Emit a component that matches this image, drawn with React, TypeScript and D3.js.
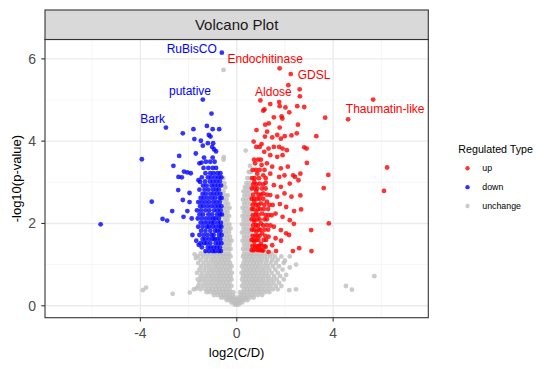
import * as d3 from 'd3'

// [log2(C/D), -log10(p-value)]
const upPoints: [number, number][] = [
  [1.78, 5.77], [2.24, 5.63], [2.14, 5.36], [2.61, 5.26], [2.62, 5.09], [0.98, 4.99], [1.76, 4.95],
  [1.78, 4.85], [1.39, 4.9], [1.15, 4.77], [1.1, 4.74], [2.02, 4.82], [2.18, 4.7], [2.51, 4.85],
  [2.8, 4.83], [5.66, 5.01], [4.62, 4.53], [3.67, 4.57], [1.54, 4.58], [1.86, 4.6], [1.89, 4.55],
  [1.18, 4.4], [1.33, 4.43], [2.54, 4.4], [1.78, 4.33], [0.82, 4.27], [1.26, 4.23], [3.3, 4.12],
  [2.27, 4.14], [2.49, 4.19], [0.7, 3.99], [0.81, 3.86], [2.8, 3.85], [2.9, 3.82], [6.24, 3.36],
  [6.11, 2.79], [2.91, 3.47], [3.8, 3.18], [2.64, 3.21], [2.42, 3.13], [3.61, 2.86], [2.64, 2.68],
  [2.38, 2.3], [2.67, 2.34], [3.82, 2.0], [3.09, 1.84], [3.1, 1.33], [2.59, 1.4], [2.33, 1.33],
  [2.17, 1.72], [2.37, 1.99], [1.84, 1.58], [1.63, 1.33],
  [1.17, 4.11], [1.47, 4.09], [1.68, 4.15], [1.83, 4.06], [1.99, 4.12], [1.03, 3.93], [0.95, 3.86],
  [1.32, 3.82], [1.54, 3.86], [1.76, 3.86], [1.9, 3.82], [2.08, 3.78], [1.14, 3.74], [1.39, 3.66],
  [1.68, 3.62], [1.9, 3.66], [0.76, 3.46], [1.03, 3.42], [1.25, 3.46], [1.47, 3.38], [1.83, 3.34],
  [2.12, 3.38], [0.85, 3.21], [1.1, 3.17], [1.39, 3.21], [1.76, 3.13], [1.98, 3.17], [2.34, 3.17],
  [0.73, 3.01], [0.95, 2.97], [1.2, 2.99], [1.54, 2.93], [1.83, 2.89], [2.2, 2.97], [2.56, 3.05],
  [0.81, 2.77], [1.1, 2.73], [1.39, 2.69], [1.68, 2.65], [1.98, 2.73], [2.27, 2.65], [0.73, 2.53],
  [1.0, 2.49], [1.25, 2.53], [1.49, 2.45], [1.79, 2.47], [2.05, 2.4], [0.81, 2.28], [1.05, 2.24],
  [1.32, 2.2], [1.61, 2.24], [1.9, 2.16], [2.2, 2.08], [0.73, 2.04], [1.0, 2.0], [1.25, 1.96],
  [1.54, 1.92], [1.83, 1.84], [2.05, 1.76], [0.81, 1.8], [1.05, 1.76], [1.32, 1.68], [1.61, 1.64],
  [0.73, 1.55], [1.0, 1.51], [1.2, 1.43], [1.47, 1.47], [0.81, 1.37], [1.1, 1.34], [1.32, 1.31],
  [0.62, 1.35], [0.7, 1.35], [0.88, 1.35], [0.97, 1.35], [1.05, 1.35],
  [0.65, 1.45], [0.75, 1.45], [0.85, 1.45], [0.92, 1.45], [1.02, 1.45], [1.15, 1.45],
  [0.62, 1.6], [0.7, 1.6], [0.82, 1.6], [0.9, 1.6], [1.12, 1.6], [1.22, 1.6],
  [0.66, 1.7], [0.76, 1.7], [0.86, 1.7], [0.95, 1.7], [1.18, 1.7],
  [0.63, 1.85], [0.72, 1.85], [0.9, 1.85], [0.98, 1.85], [1.15, 1.85], [1.3, 1.85],
  [0.68, 1.95], [0.8, 1.95], [0.88, 1.95], [1.1, 1.95], [1.4, 1.95],
  [0.62, 2.1], [0.72, 2.1], [0.85, 2.1], [0.95, 2.1], [1.15, 2.1], [1.25, 2.1],
  [0.67, 2.2], [0.78, 2.2], [0.9, 2.2], [1.2, 2.2], [1.45, 2.2],
  [0.63, 2.35], [0.7, 2.35], [0.88, 2.35], [0.98, 2.35], [1.12, 2.35], [1.3, 2.35],
  [0.66, 2.45], [0.8, 2.45], [0.9, 2.45], [1.15, 2.45], [1.35, 2.45],
  [0.62, 2.6], [0.72, 2.6], [0.85, 2.6], [0.95, 2.6], [1.1, 2.6],
  [0.68, 2.7], [0.9, 2.7], [1.0, 2.7], [1.25, 2.7],
  [0.63, 2.85], [0.75, 2.85], [0.85, 2.85], [1.05, 2.85], [1.2, 2.85],
  [0.68, 2.95], [0.82, 2.95], [1.1, 2.95],
  [0.64, 3.1], [0.74, 3.1], [0.92, 3.1], [1.2, 3.1],
  [0.66, 3.3], [0.8, 3.3], [0.95, 3.3], [1.15, 3.3],
  [0.72, 3.55], [0.88, 3.55], [1.0, 3.55],
]

const downPoints: [number, number][] = [
  [-0.62, 6.15], [-1.41, 5.01], [-1.05, 4.67], [-2.94, 4.33], [-1.8, 4.29], [-1.24, 4.37], [-1.0, 4.29],
  [-0.73, 4.29], [-2.24, 4.19], [-1.76, 4.05], [-1.49, 4.01], [-1.41, 3.89], [-1.16, 4.15], [-1.09, 4.11],
  [-1.02, 3.86], [-0.94, 3.8], [-0.86, 3.75], [-3.94, 3.56], [-2.39, 3.64], [-1.7, 3.7], [-1.55, 3.46],
  [-1.46, 3.48], [-2.63, 3.4], [-2.19, 3.26], [-2.05, 3.24], [-1.91, 3.22], [-2.42, 3.13], [-2.28, 3.12],
  [-1.59, 3.05], [-1.52, 3.01], [-2.43, 2.81], [-1.96, 2.74], [-3.53, 2.53], [-2.24, 2.57], [-1.96, 2.52],
  [-2.68, 2.3], [-2.05, 2.3], [-2.21, 2.16], [-3.08, 2.11], [-2.89, 2.07], [-1.87, 2.12], [-1.84, 1.72],
  [-1.68, 1.58], [-1.58, 1.48], [-5.65, 1.98],
  [-1.3, 1.33], [-1.15, 1.33], [-1.0, 1.33], [-0.9, 1.33], [-0.75, 1.33], [-0.66, 1.33],
  [-1.45, 1.42], [-1.2, 1.42], [-1.08, 1.42], [-0.95, 1.42], [-0.82, 1.42], [-0.7, 1.42],
  [-1.5, 1.52], [-1.35, 1.52], [-1.25, 1.52], [-1.1, 1.52], [-0.88, 1.52], [-0.76, 1.52], [-0.64, 1.52],
  [-1.42, 1.62], [-1.3, 1.62], [-1.15, 1.62], [-1.0, 1.62], [-0.92, 1.62], [-0.8, 1.62], [-0.68, 1.62],
  [-1.55, 1.72], [-1.38, 1.72], [-1.22, 1.72], [-1.05, 1.72], [-0.96, 1.72], [-0.74, 1.72], [-0.63, 1.72],
  [-1.48, 1.82], [-1.3, 1.82], [-1.1, 1.82], [-0.9, 1.82], [-0.8, 1.82], [-0.68, 1.82],
  [-1.6, 1.92], [-1.42, 1.92], [-1.25, 1.92], [-1.15, 1.92], [-1.0, 1.92], [-0.86, 1.92], [-0.72, 1.92], [-0.64, 1.92],
  [-1.5, 2.02], [-1.35, 2.02], [-1.2, 2.02], [-1.05, 2.02], [-0.95, 2.02], [-0.78, 2.02], [-0.66, 2.02],
  [-1.62, 2.12], [-1.45, 2.12], [-1.28, 2.12], [-1.12, 2.12], [-0.98, 2.12], [-0.88, 2.12], [-0.74, 2.12],
  [-1.55, 2.22], [-1.4, 2.22], [-1.18, 2.22], [-1.02, 2.22], [-0.82, 2.22], [-0.7, 2.22], [-0.62, 2.22],
  [-1.65, 2.32], [-1.48, 2.32], [-1.3, 2.32], [-1.14, 2.32], [-0.94, 2.32], [-0.8, 2.32], [-0.67, 2.32],
  [-1.52, 2.42], [-1.38, 2.42], [-1.22, 2.42], [-1.06, 2.42], [-0.9, 2.42], [-0.76, 2.42], [-0.64, 2.42],
  [-1.6, 2.52], [-1.45, 2.52], [-1.3, 2.52], [-1.15, 2.52], [-0.98, 2.52], [-0.84, 2.52], [-0.7, 2.52],
  [-1.5, 2.62], [-1.36, 2.62], [-1.2, 2.62], [-1.04, 2.62], [-0.9, 2.62], [-0.72, 2.62], [-0.63, 2.62],
  [-1.42, 2.72], [-1.28, 2.72], [-1.1, 2.72], [-0.96, 2.72], [-0.82, 2.72], [-0.68, 2.72],
  [-1.55, 2.82], [-1.34, 2.82], [-1.18, 2.82], [-1.0, 2.82], [-0.86, 2.82], [-0.74, 2.82],
  [-1.4, 2.92], [-1.25, 2.92], [-1.05, 2.92], [-0.92, 2.92], [-0.78, 2.92], [-0.65, 2.92],
  [-1.32, 3.02], [-1.12, 3.02], [-0.98, 3.02], [-0.84, 3.02], [-0.7, 3.02],
  [-1.45, 3.12], [-1.2, 3.12], [-1.06, 3.12], [-0.9, 3.12], [-0.76, 3.12], [-0.64, 3.12],
  [-1.3, 3.22], [-1.1, 3.22], [-0.96, 3.22], [-0.8, 3.22], [-0.68, 3.22],
  [-1.38, 3.35], [-1.18, 3.35], [-1.0, 3.35], [-0.86, 3.35],
  [-1.28, 3.5], [-1.1, 3.5], [-0.92, 3.5],
  [-1.36, 3.6], [-1.0, 3.6], [-1.2, 3.95], [-0.98, 3.95],
]

// unchanged proteins, row by row up the V shape
const unchangeRows: [number, number[]][] = [
  [0.03, [-0.08, 0, 0.08]],
  [0.08, [-0.22, -0.12, -0.04, 0.04, 0.12, 0.22]],
  [0.14, [-0.42, -0.32, -0.22, -0.12, -0.04, 0.05, 0.14, 0.24, 0.34, 0.45]],
  [0.2, [-0.65, -0.52, -0.4, -0.3, -0.18, -0.08, 0.08, 0.18, 0.3, 0.42, 0.55, 0.7]],
  [0.26, [-0.95, -0.8, -0.66, -0.54, -0.42, -0.3, -0.16, 0.16, 0.3, 0.44, 0.58, 0.72, 0.88, 1.05]],
  [0.33, [-1.25, -1.1, -0.95, -0.82, -0.68, -0.55, -0.42, -0.28, -0.14, 0.14, 0.28, 0.42, 0.56, 0.7, 0.85, 1.0, 1.18, 1.35]],
  [0.4, [-1.5, -1.3, -1.15, -1.0, -0.86, -0.72, -0.58, -0.44, -0.3, 0.3, 0.44, 0.58, 0.72, 0.86, 1.0, 1.15, 1.32, 1.5, 1.7]],
  [0.48, [-1.6, -1.42, -1.25, -1.08, -0.92, -0.78, -0.64, -0.5, -0.36, -0.22, 0.22, 0.36, 0.5, 0.64, 0.78, 0.92, 1.08, 1.25, 1.42, 1.62, 1.85]],
  [0.56, [-1.55, -1.35, -1.18, -1.02, -0.86, -0.72, -0.58, -0.44, -0.3, 0.28, 0.42, 0.56, 0.7, 0.85, 1.0, 1.16, 1.33, 1.52, 1.75]],
  [0.64, [-1.62, -1.45, -1.28, -1.1, -0.95, -0.8, -0.65, -0.5, -0.36, -0.22, 0.22, 0.36, 0.5, 0.65, 0.8, 0.95, 1.1, 1.28, 1.45, 1.65, 1.95]],
  [0.72, [-1.5, -1.32, -1.15, -0.98, -0.82, -0.68, -0.54, -0.4, -0.26, 0.26, 0.4, 0.54, 0.68, 0.82, 0.98, 1.15, 1.32, 1.55, 1.8]],
  [0.8, [-1.65, -1.45, -1.25, -1.08, -0.92, -0.76, -0.62, -0.48, -0.34, -0.2, 0.2, 0.34, 0.48, 0.62, 0.76, 0.92, 1.08, 1.25, 1.45, 1.7]],
  [0.88, [-1.55, -1.35, -1.16, -1.0, -0.84, -0.7, -0.56, -0.42, -0.28, 0.28, 0.42, 0.56, 0.7, 0.84, 1.0, 1.16, 1.35, 1.6, 1.9]],
  [0.96, [-1.48, -1.28, -1.1, -0.92, -0.78, -0.64, -0.5, -0.36, -0.22, 0.22, 0.36, 0.5, 0.64, 0.78, 0.92, 1.1, 1.28, 1.5, 1.75]],
  [1.04, [-1.6, -1.38, -1.18, -1.0, -0.84, -0.7, -0.56, -0.42, -0.28, 0.28, 0.42, 0.56, 0.7, 0.84, 1.0, 1.2, 1.4, 1.62, 1.95]],
  [1.12, [-1.5, -1.28, -1.08, -0.92, -0.76, -0.62, -0.48, -0.34, 0.32, 0.46, 0.6, 0.74, 0.9, 1.06, 1.25, 1.48, 1.7]],
  [1.2, [-1.62, -1.4, -1.2, -1.0, -0.84, -0.68, -0.54, -0.4, -0.26, 0.26, 0.4, 0.54, 0.68, 0.84, 1.0, 1.18, 1.38, 1.58, 1.85, 2.2]],
  [1.27, [-1.5, -1.3, -1.1, -0.92, -0.76, -0.6, -0.46, -0.32, 0.3, 0.44, 0.58, 0.72, 0.88, 1.05, 1.25, 1.45]],
  [1.38, [-0.56, -0.46, -0.36, -0.26, 0.26, 0.36, 0.46, 0.56]],
  [1.48, [-0.54, -0.42, -0.3, 0.3, 0.42, 0.54]],
  [1.58, [-0.56, -0.44, -0.32, -0.22, 0.24, 0.36, 0.48, 0.57]],
  [1.68, [-0.52, -0.4, -0.28, 0.3, 0.42, 0.54]],
  [1.78, [-0.56, -0.44, -0.32, 0.22, 0.34, 0.46, 0.57]],
  [1.88, [-0.5, -0.38, -0.26, 0.28, 0.4, 0.52]],
  [1.98, [-0.55, -0.43, -0.31, 0.22, 0.34, 0.46, 0.57]],
  [2.08, [-0.5, -0.38, 0.28, 0.4, 0.52]],
  [2.18, [-0.56, -0.44, -0.32, 0.24, 0.36, 0.48, 0.57]],
  [2.28, [-0.5, -0.38, 0.3, 0.42, 0.54]],
  [2.38, [-0.54, -0.42, -0.3, 0.24, 0.36, 0.48]],
  [2.48, [-0.48, -0.36, 0.3, 0.42, 0.55]],
  [2.58, [-0.55, -0.42, 0.26, 0.38, 0.5]],
  [2.68, [-0.5, -0.38, 0.32, 0.44, 0.56]],
  [2.78, [-0.55, 0.28, 0.4, 0.52]],
  [2.88, [-0.48, 0.34, 0.46, 0.57]],
  [2.98, [-0.52, 0.4, 0.52]],
  [3.1, [-0.56, 0.44, 0.56]],
  [3.25, [0.5, 0.58]],
  [3.4, [0.55]],
]

const unchangeOutliers: [number, number][] = [
  [-0.55, 5.73], [-0.54, 3.61], [-0.55, 3.55], [0.37, 3.77], [5.71, 0.72], [4.53, 0.48], [4.78, 0.39],
  [-3.9, 0.38], [-3.77, 0.44], [-2.66, 0.29], [-1.95, 0.32], [-1.67, 0.42], [-1.78, 0.4], [2.18, 0.38],
  [2.46, 0.4], [2.2, 0.93], [2.46, 1.0], [2.0, 1.1], [2.05, 0.75], [-1.75, 1.25], [-1.7, 1.16],
]

const geneLabels = [
  { name: 'RuBisCO', type: 'down', x: -1.87, y: 6.24 },
  { name: 'Endochitinase', type: 'up', x: 1.18, y: 6.0 },
  { name: 'GDSL', type: 'up', x: 3.21, y: 5.6 },
  { name: 'Aldose', type: 'up', x: 1.52, y: 5.2 },
  { name: 'Thaumatin-like', type: 'up', x: 6.16, y: 4.78 },
  { name: 'putative', type: 'down', x: -1.94, y: 5.22 },
  { name: 'Bark', type: 'down', x: -3.49, y: 4.53 },
]

const types = ['up', 'down', 'unchange']
const colors: Record<string, string> = { up: '#FF0000', down: '#0000FF', unchange: '#BEBEBE' }

const xTicks = [-4, 0, 4]
const yTicks = [0, 2, 4, 6]

const font = 'Liberation Sans, Arial, Helvetica, sans-serif'

export default function App() {
  const width = 554
  const height = 369
  const panel = { left: 45, right: 428.3, top: 39.5, bottom: 317.7 }

  const x = d3.scaleLinear().domain([-7.96, 7.95]).range([panel.left, panel.right])
  const y = d3.scaleLinear().domain([-0.29, 6.47]).range([panel.bottom, panel.top])

  const unchangePoints: [number, number][] = []
  unchangeRows.forEach(([yv, xs]) => xs.forEach((xv) => unchangePoints.push([xv, yv])))
  unchangeOutliers.forEach((p) => unchangePoints.push(p))

  const minorX = [-6, -2, 2, 6]
  const minorY = [1, 3, 5]
  const r = 2.4

  return (
    <svg width={width} height={height} style={{ position: 'absolute', left: 0, top: 0 }} fontFamily={font}>
      <rect x={0} y={0} width={width} height={height} fill="white" />
      {/* panel grid */}
      <g>
        {minorX.map((v) => (
          <line key={'mx' + v} x1={x(v)} x2={x(v)} y1={panel.top} y2={panel.bottom} stroke="#F2F2F2" strokeWidth={0.7} />
        ))}
        {minorY.map((v) => (
          <line key={'my' + v} y1={y(v)} y2={y(v)} x1={panel.left} x2={panel.right} stroke="#F2F2F2" strokeWidth={0.7} />
        ))}
        {xTicks.map((v) => (
          <line key={'gx' + v} x1={x(v)} x2={x(v)} y1={panel.top} y2={panel.bottom} stroke="#EBEBEB" strokeWidth={1.4} />
        ))}
        {yTicks.map((v) => (
          <line key={'gy' + v} y1={y(v)} y2={y(v)} x1={panel.left} x2={panel.right} stroke="#EBEBEB" strokeWidth={1.4} />
        ))}
      </g>
      {/* points */}
      <g fillOpacity={0.8}>
        {unchangePoints.map((d, i) => (
          <circle key={'u' + i} cx={x(d[0])} cy={y(d[1])} r={r} fill={colors.unchange} />
        ))}
        {downPoints.map((d, i) => (
          <circle key={'d' + i} cx={x(d[0])} cy={y(d[1])} r={r} fill={colors.down} />
        ))}
        {upPoints.map((d, i) => (
          <circle key={'p' + i} cx={x(d[0])} cy={y(d[1])} r={r} fill={colors.up} />
        ))}
      </g>
      {/* labels */}
      {geneLabels.map((l) => (
        <text key={l.name} x={x(l.x)} y={y(l.y)} textAnchor="middle" dominantBaseline="central" fontSize={12} fill={colors[l.type]}>
          {l.name}
        </text>
      ))}
      {/* panel border */}
      <rect x={panel.left} y={panel.top} width={panel.right - panel.left} height={panel.bottom - panel.top} fill="none" stroke="#333333" strokeWidth={1.1} />
      {/* strip */}
      <rect x={panel.left} y={10} width={panel.right - panel.left} height={panel.top - 10} fill="#D9D9D9" stroke="#333333" strokeWidth={1.1} />
      <text x={(panel.left + panel.right) / 2} y={(10 + panel.top) / 2} textAnchor="middle" dominantBaseline="central" fontSize={15} fill="#1A1A1A">
        Volcano Plot
      </text>
      {/* axes */}
      {xTicks.map((v) => (
        <g key={'xt' + v}>
          <line x1={x(v)} x2={x(v)} y1={panel.bottom} y2={panel.bottom + 3.7} stroke="#333333" strokeWidth={1.1} />
          <text x={x(v)} y={333} textAnchor="middle" dominantBaseline="central" fontSize={14} fill="#4D4D4D">
            {v}
          </text>
        </g>
      ))}
      {yTicks.map((v) => (
        <g key={'yt' + v}>
          <line x1={panel.left - 3.7} x2={panel.left} y1={y(v)} y2={y(v)} stroke="#333333" strokeWidth={1.1} />
          <text x={36} y={y(v)} textAnchor="end" dominantBaseline="central" fontSize={14} fill="#4D4D4D">
            {v}
          </text>
        </g>
      ))}
      <text x={(panel.left + panel.right) / 2} y={352} textAnchor="middle" dominantBaseline="central" fontSize={13} fill="black">
        log2(C/D)
      </text>
      <text transform={`translate(16,${(panel.top + panel.bottom) / 2}) rotate(-90)`} textAnchor="middle" dominantBaseline="central" fontSize={13} fill="black">
        -log10(p-value)
      </text>
      {/* legend */}
      <text x={458.3} y={149} dominantBaseline="central" fontSize={10.7} fill="black">
        Regulated Type
      </text>
      {types.map((t, i) => (
        <g key={t}>
          <circle cx={467.5} cy={168.3 + i * 18.85} r={2.2} fill={colors[t]} fillOpacity={0.8} />
          <text x={482.3} y={168.3 + i * 18.85} dominantBaseline="central" fontSize={8.8} fill="black">
            {t}
          </text>
        </g>
      ))}
    </svg>
  )
}
